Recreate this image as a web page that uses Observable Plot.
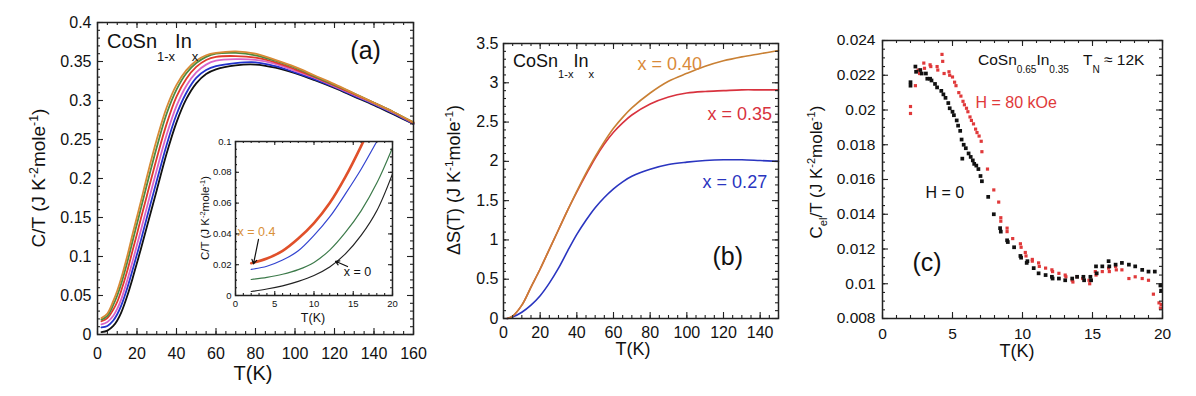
<!DOCTYPE html>
<html><head><meta charset="utf-8">
<script src="https://cdn.jsdelivr.net/npm/d3@7"></script>
<script src="https://cdn.jsdelivr.net/npm/@observablehq/plot@0.6"></script>
<style>
body{margin:0;background:#fff;}
#wrap{position:relative;width:1196px;height:396px;overflow:hidden;background:#fff;}
</style></head><body><div id="wrap"></div>
<script>
// ---------- Panel (a): C/T vs T for CoSn1-xInx ----------
const tA = [2,5,8,10,12,15,18,20,22,25,30,35,40,45,50,55,60,70,80,90,100,110,120,130,140,150,160];
const ctBlack   = [0.003,0.005,0.011,0.018,0.028,0.049,0.074,0.092,0.110,0.138,0.185,0.232,0.272,0.302,0.322,0.334,0.340,0.345,0.346,0.342,0.335,0.326,0.316,0.305,0.294,0.282,0.270];
const ctBlue    = [0.009,0.011,0.018,0.026,0.037,0.059,0.085,0.103,0.121,0.150,0.197,0.243,0.282,0.310,0.329,0.339,0.344,0.348,0.349,0.344,0.336,0.327,0.317,0.306,0.295,0.283,0.270];
const ctMagenta = [0.013,0.016,0.024,0.033,0.045,0.069,0.096,0.115,0.134,0.163,0.211,0.256,0.293,0.319,0.336,0.346,0.351,0.353,0.352,0.347,0.338,0.329,0.318,0.307,0.296,0.284,0.271];
const ctRed     = [0.017,0.021,0.032,0.042,0.056,0.081,0.110,0.129,0.149,0.178,0.226,0.270,0.305,0.328,0.343,0.352,0.356,0.357,0.355,0.349,0.340,0.330,0.319,0.308,0.297,0.285,0.271];
const ctGreen   = [0.019,0.024,0.038,0.050,0.065,0.092,0.122,0.142,0.162,0.192,0.240,0.283,0.314,0.335,0.348,0.356,0.360,0.361,0.358,0.351,0.342,0.331,0.320,0.309,0.297,0.285,0.272];
const ctOrange  = [0.021,0.027,0.043,0.056,0.072,0.100,0.131,0.151,0.171,0.202,0.250,0.291,0.320,0.339,0.351,0.358,0.361,0.363,0.360,0.352,0.343,0.332,0.321,0.309,0.297,0.285,0.272];
const xTicksA = [0,20,40,60,80,100,120,140,160];
const yTicksA = [0,0.05,0.1,0.15,0.2,0.25,0.3,0.35,0.4];

// ---------- Inset of (a): low-T C/T ----------
const tIn = [2,4,6,8,10,12,14,16,18,20];
const inRed   = [0.021,0.024,0.029,0.037,0.047,0.060,0.077,0.097,0.119,0.142];
const inBlue  = [0.017,0.019,0.023,0.029,0.039,0.051,0.066,0.082,0.100,0.118];
const inGreen = [0.0104,0.0118,0.0138,0.0168,0.0215,0.0295,0.041,0.055,0.073,0.096];
const inBlack = [0.0026,0.0042,0.0063,0.0092,0.013,0.0185,0.027,0.039,0.055,0.079];
const xTicksIn = [0,5,10,15,20];
const yTicksIn = [0,0.02,0.04,0.06,0.08,0.1];

// ---------- Panel (b): entropy ΔS(T) ----------
const tB = [2,5,10,15,20,25,30,35,40,45,50,55,60,65,70,80,90,100,110,120,130,140,150];
const s040 = [0,0.03,0.17,0.40,0.63,0.88,1.13,1.38,1.62,1.85,2.06,2.25,2.42,2.56,2.68,2.87,3.02,3.12,3.21,3.28,3.33,3.37,3.41];
const s035 = [0,0.03,0.17,0.40,0.63,0.88,1.13,1.38,1.61,1.83,2.04,2.22,2.37,2.49,2.59,2.73,2.82,2.87,2.89,2.90,2.91,2.91,2.91];
const s027 = [0,0.02,0.08,0.17,0.29,0.45,0.64,0.86,1.07,1.25,1.41,1.54,1.65,1.74,1.81,1.90,1.96,1.99,2.01,2.02,2.02,2.01,2.00];
const xTicksB = [0,20,40,60,80,100,120,140];
const yTicksB = [0,0.5,1,1.5,2,2.5,3,3.5];

// ---------- Panel (c): Cel/T, H = 0 and H = 80 kOe ----------
const tH0 = [2.0,2.0,2.35,2.4,2.7,2.8,3.1,3.2,3.4,3.5,3.75,3.9,4.2,4.35,4.5,4.7,4.8,5.0,5.1,5.3,5.4,5.55,5.65,5.7,5.8,5.95,6.15,6.3,6.45,6.55,6.7,6.85,7.0,7.1,7.55,7.95,8.4,8.45,8.9,8.95,9.4,9.85,9.9,10.3,10.35,10.8,11.15,11.65,12.1,12.15,12.6,13.05,13.55,13.9,14.35,14.4,14.85,14.9,15.25,15.3,15.7,16.15,16.2,16.65,17.1,17.6,18.05,18.55,19.0,19.45,19.85,19.9];
const cH0 = [0.0216,0.0214,0.0225,0.0222,0.0223,0.0221,0.0221,0.0218,0.0218,0.0217,0.0215,0.0213,0.0211,0.0209,0.0207,0.0204,0.0201,0.0199,0.0197,0.0194,0.0191,0.0188,0.0183,0.0172,0.0180,0.0178,0.0175,0.0173,0.0171,0.0169,0.0168,0.0166,0.0162,0.0159,0.0150,0.0140,0.0132,0.0130,0.0125,0.0124,0.0121,0.0116,0.0115,0.0112,0.0113,0.0109,0.0106,0.0105,0.0104,0.0103,0.0103,0.0102,0.0103,0.0104,0.0104,0.0102,0.0104,0.0102,0.0110,0.0106,0.0110,0.0113,0.0110,0.0111,0.0112,0.0111,0.0110,0.0108,0.0107,0.0107,0.0099,0.0096];
const tH80 = [2.0,2.0,2.35,2.55,2.65,2.95,3.0,3.4,3.45,3.9,3.95,4.25,4.3,4.4,4.75,4.8,5.0,5.15,5.25,5.45,5.6,5.75,5.85,6.0,6.1,6.25,6.35,6.5,6.65,6.75,6.9,7.05,7.1,7.5,7.95,8.3,8.45,8.45,8.9,8.9,9.3,9.85,9.9,10.2,10.25,10.7,10.7,11.15,11.2,11.65,12.1,12.15,12.6,13.05,13.1,13.55,13.6,13.9,14.3,14.75,14.8,15.2,15.25,15.7,16.15,16.2,16.65,16.7,17.1,17.6,18.05,18.55,19.0,19.35,19.75,19.85,19.9];
const cH80 = [0.0202,0.0198,0.0214,0.0223,0.0221,0.0227,0.0224,0.0226,0.0225,0.0225,0.0223,0.0232,0.0228,0.0221,0.0222,0.0220,0.0219,0.0216,0.0214,0.0210,0.0208,0.0205,0.0203,0.0201,0.0199,0.0196,0.0194,0.0192,0.0189,0.0187,0.0185,0.0182,0.0176,0.0166,0.0154,0.0147,0.0138,0.0136,0.0132,0.0130,0.0126,0.0123,0.0121,0.0118,0.0116,0.0114,0.0113,0.0112,0.0110,0.0109,0.0108,0.0107,0.0106,0.0105,0.0104,0.0102,0.0101,0.0104,0.0103,0.0102,0.0100,0.0107,0.0105,0.0107,0.0109,0.0107,0.0110,0.0108,0.0108,0.0103,0.0104,0.0103,0.0102,0.0094,0.0089,0.0086,0.0088];
const xTicksC = [0,5,10,15,20];
const yTicksC = [0.008,0.01,0.012,0.014,0.016,0.018,0.02,0.022,0.024];

// ---------- helpers ----------
const FONT = '"Liberation Sans", Arial, Helvetica, sans-serif';
const wrap = document.getElementById("wrap");
const rows = (ts, vs) => ts.map((T, i) => ({T, v: vs[i]}));

function makePanel(c) {
  const fw = c.width - c.ml - c.mr, fh = c.height - c.mt - c.mb;
  const tk = {stroke: "#222", strokeWidth: 1.1};
  const el = Plot.plot({
    width: c.width, height: c.height,
    marginLeft: c.ml, marginRight: c.mr, marginTop: c.mt, marginBottom: c.mb,
    x: {domain: c.xDomain}, y: {domain: c.yDomain},
    style: {background: "transparent", fontFamily: FONT, fontSize: c.fs + "px", color: "#111"},
    marks: [
      ...c.marks,
      Plot.tickX(c.xMajor, {x: d => d, insetTop: fh - c.maj, ...tk}),
      Plot.tickX(c.xMajor, {x: d => d, insetBottom: fh - c.maj, ...tk}),
      Plot.tickX(c.xMinor, {x: d => d, insetTop: fh - c.min, ...tk}),
      Plot.tickX(c.xMinor, {x: d => d, insetBottom: fh - c.min, ...tk}),
      Plot.tickY(c.yMajor, {y: d => d, insetRight: fw - c.maj, ...tk}),
      Plot.tickY(c.yMajor, {y: d => d, insetLeft: fw - c.maj, ...tk}),
      Plot.tickY(c.yMinor, {y: d => d, insetRight: fw - c.min, ...tk}),
      Plot.tickY(c.yMinor, {y: d => d, insetLeft: fw - c.min, ...tk}),
      Plot.frame({stroke: "#222", strokeWidth: 1.5}),
      Plot.axisX({ticks: c.xMajor, tickSize: 0, tickPadding: c.xPad, tickFormat: c.xFmt || (d => String(d)), label: null}),
      Plot.axisY({ticks: c.yMajor, tickSize: 0, tickPadding: c.yPad, tickFormat: c.yFmt || (d => String(d)), label: null})
    ]
  });
  el.style.position = "absolute";
  el.style.left = c.left + "px";
  el.style.top = c.top + "px";
  wrap.appendChild(el);
  return el;
}

function rich(el, o) {
  const t = d3.select(el).append("text")
    .attr("font-family", FONT).attr("font-size", o.size)
    .attr("fill", o.fill || "#111").attr("text-anchor", o.anchor || "start");
  if (o.rotate) t.attr("transform", `translate(${o.x},${o.y}) rotate(-90)`);
  else t.attr("x", o.x).attr("y", o.y);
  let cur = 0;
  for (const [s, k] of o.parts) {
    const off = k === "sub" ? (o.subDrop || o.size * 0.4) : k === "sup" ? -(o.supRise || o.size * 0.4) : 0;
    t.append("tspan").attr("dy", off - cur)
      .attr("font-size", k ? o.size * (o.small || 0.65) : o.size).text(s);
    cur = off;
  }
}

const line = (ts, vs, stroke, sw = 1.8, extra = {}) =>
  Plot.line(rows(ts, vs), {x: "T", y: "v", stroke, strokeWidth: sw, curve: "catmull-rom", ...extra});

// ---------- Panel (a) ----------
const annA = [{T: 128, v: 0.363, s: "(a)"}];
const pa = makePanel({
  left: 0, top: 0, width: 430, height: 396, ml: 97, mr: 17, mt: 22, mb: 62,
  xDomain: [0, 160], yDomain: [0, 0.4],
  xMajor: xTicksA, xMinor: d3.range(0, 160.01, 5),
  yMajor: yTicksA, yMinor: d3.range(0, 0.4001, 0.01),
  yFmt: d => String(+d.toFixed(2)),
  fs: 16, xPad: 13, yPad: 6, maj: 6, min: 3,
  marks: [
    line(tA, ctBlack, "#111"),
    line(tA, ctBlue, "#2233cc"),
    line(tA, ctMagenta, "#d865c8"),
    line(tA, ctRed, "#e03a2a"),
    line(tA, ctGreen, "#4f8a3f"),
    line(tA, ctOrange, "#d88a35"),
    Plot.text(annA, {x: "T", y: "v", text: "s", textAnchor: "start", fontSize: 25, fill: "#111"})
  ]
});
rich(pa, {x: 107, y: 48, size: 20, subDrop: 13, small: 0.65,
  parts: [["CoSn"], ["1-x", "sub"], ["In"], ["x", "sub"]]});
rich(pa, {x: 45, y: 178, rotate: true, anchor: "middle", size: 19, supRise: 7,
  parts: [["C/T (J K"], ["-2", "sup"], ["mole"], ["-1", "sup"], [")"]]});
rich(pa, {x: 253, y: 380, anchor: "middle", size: 20, parts: [["T(K)"]]});

// ---------- Inset ----------
const annIn = [
  {T: 0.25, v: 0.0412, s: "x = 0.4", c: "#d9903a"},
  {T: 13.8, v: 0.0153, s: "x = 0", c: "#111"}
];
const arrIn = [
  {x1: 2.93, y1: 0.0364, x2: 2.29, y2: 0.0205},
  {x1: 14.27, y1: 0.0188, x2: 12.74, y2: 0.0222}
];
const pin = makePanel({
  left: 188, top: 130, width: 212, height: 200, ml: 47, mr: 8, mt: 11, mb: 35,
  xDomain: [0, 20], yDomain: [0, 0.1],
  xMajor: xTicksIn, xMinor: d3.range(0, 20.01, 1),
  yMajor: yTicksIn, yMinor: d3.range(0, 0.1001, 0.005),
  fs: 9.5, xPad: 5, yPad: 4, maj: 4, min: 2,
  marks: [
    line(tIn, inBlack, "#222", 1.2, {clip: true}),
    line(tIn, inGreen, "#3c7a4a", 1.2, {clip: true}),
    line(tIn, inBlue, "#3344d0", 1.2, {clip: true}),
    line(tIn, inRed, "#e0502a", 2.6, {clip: true}),
    Plot.arrow(arrIn, {x1: "x1", y1: "y1", x2: "x2", y2: "y2", stroke: "#111", strokeWidth: 1.2, headLength: 6}),
    Plot.text(annIn, {x: "T", y: "v", text: "s", fill: "c", textAnchor: "start", fontSize: 12.5})
  ]
});
rich(pin, {x: 21, y: 88, rotate: true, anchor: "middle", size: 11.5, supRise: 4,
  parts: [["C/T (J K"], ["-2", "sup"], ["mole"], ["-1", "sup"], [")"]]});
rich(pin, {x: 125, y: 192, anchor: "middle", size: 12.5, parts: [["T(K)"]]});

// ---------- Panel (b) ----------
const annB = [
  {T: 73.1, v: 3.24, s: "x = 0.40", c: "#d98a3a", f: 18},
  {T: 111.3, v: 2.60, s: "x = 0.35", c: "#d8323e", f: 18},
  {T: 108.6, v: 1.74, s: "x = 0.27", c: "#2a35c0", f: 18},
  {T: 114, v: 0.78, s: "(b)", c: "#111", f: 25}
];
const pb = makePanel({
  left: 430, top: 0, width: 360, height: 396, ml: 73, mr: 12, mt: 43, mb: 78,
  xDomain: [0, 150], yDomain: [0, 3.5],
  xMajor: xTicksB, xMinor: d3.range(0, 150.01, 5),
  yMajor: yTicksB, yMinor: d3.range(0, 3.5001, 0.1),
  fs: 16, xPad: 8, yPad: 5, maj: 6, min: 3,
  marks: [
    line(tB, s027, "#2a35c0", 1.6),
    line(tB, s035, "#d8323e", 1.6),
    line(tB, s040, "#c98034", 1.6),
    Plot.text(annB, {x: "T", y: "v", text: "s", fill: "c", fontSize: "f", textAnchor: "start"})
  ]
});
rich(pb, {x: 83, y: 67, size: 18, subDrop: 11, small: 0.62,
  parts: [["CoSn"], ["1-x", "sub"], ["In"], ["x", "sub"]]});
rich(pb, {x: 30, y: 180, rotate: true, anchor: "middle", size: 18, supRise: 7,
  parts: [["ΔS(T) (J K"], ["-1", "sup"], ["mole"], ["-1", "sup"], [")"]]});
rich(pb, {x: 203, y: 355, anchor: "middle", size: 18, parts: [["T(K)"]]});

// ---------- Panel (c) ----------
const annC = [
  {T: 6.64, v: 0.02041, s: "H = 80 kOe", c: "#e0393a", f: 16},
  {T: 3.07, v: 0.01523, s: "H = 0", c: "#111", f: 16},
  {T: 2.14, v: 0.01122, s: "(c)", c: "#111", f: 25}
];
const pc = makePanel({
  left: 790, top: 0, width: 406, height: 396, ml: 92, mr: 34, mt: 40, mb: 78,
  xDomain: [0, 20], yDomain: [0.008, 0.024],
  xMajor: xTicksC, xMinor: d3.range(0, 20.01, 1),
  yMajor: yTicksC, yMinor: d3.range(0.008, 0.02401, 0.0005),
  fs: 15.5, xPad: 9, yPad: 7, maj: 6, min: 3,
  marks: [
    Plot.dot(rows(tH80, cH80), {x: "T", y: "v", symbol: "square", r: 1.8, fill: "#e0393a"}),
    Plot.dot(rows(tH0, cH0), {x: "T", y: "v", symbol: "square", r: 2.1, fill: "#111"}),
    Plot.text(annC, {x: "T", y: "v", text: "s", fill: "c", fontSize: "f", textAnchor: "start"})
  ]
});
rich(pc, {x: 188, y: 65, size: 15.5, subDrop: 8, small: 0.65,
  parts: [["CoSn"], ["0.65", "sub"], ["In"], ["0.35", "sub"]]});
rich(pc, {x: 293, y: 65, size: 15.5, subDrop: 8, small: 0.65,
  parts: [["T"], ["N", "sub"], [" ≈ 12K"]]});
rich(pc, {x: 32, y: 172, rotate: true, anchor: "middle", size: 17, supRise: 7, subDrop: 5,
  parts: [["C"], ["el", "sub"], ["/T (J K"], ["-2", "sup"], ["mole"], ["-1", "sup"], [")"]]});
rich(pc, {x: 227, y: 357, anchor: "middle", size: 18, parts: [["T(K)"]]});
</script>
</body></html>
